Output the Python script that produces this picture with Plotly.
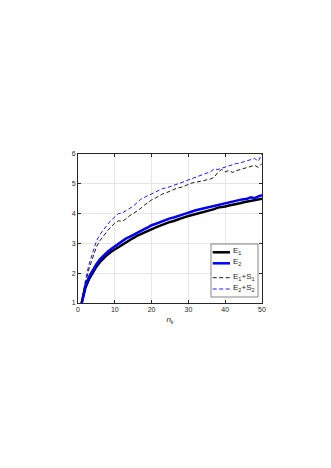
import plotly.graph_objects as go

# n_k values (x axis)
n_k = list(range(1, 51))

E1 = [1.00, 1.50, 1.80, 2.03, 2.22, 2.38, 2.51, 2.62, 2.72, 2.80,
      2.89, 2.97, 3.05, 3.11, 3.18, 3.25, 3.31, 3.37, 3.43, 3.49,
      3.53, 3.58, 3.63, 3.67, 3.72, 3.75, 3.80, 3.83, 3.88, 3.92,
      3.95, 3.98, 4.01, 4.05, 4.08, 4.12, 4.15, 4.20, 4.21, 4.24,
      4.27, 4.29, 4.32, 4.35, 4.38, 4.40, 4.43, 4.44, 4.46, 4.50]

E2 = [1.00, 1.58, 1.88, 2.11, 2.30, 2.47, 2.60, 2.71, 2.81, 2.90,
      2.99, 3.07, 3.16, 3.22, 3.29, 3.36, 3.42, 3.48, 3.54, 3.61,
      3.65, 3.70, 3.76, 3.79, 3.84, 3.87, 3.92, 3.95, 3.99, 4.04,
      4.07, 4.11, 4.14, 4.17, 4.20, 4.24, 4.26, 4.30, 4.33, 4.36,
      4.39, 4.42, 4.44, 4.46, 4.48, 4.50, 4.55, 4.52, 4.58, 4.62]

E1_S1 = [1.00, 1.65, 2.15, 2.55, 2.88, 3.10, 3.28, 3.42, 3.56, 3.68,
         3.76, 3.74, 3.82, 3.93, 4.00, 4.08, 4.17, 4.28, 4.38, 4.46,
         4.52, 4.60, 4.66, 4.70, 4.76, 4.82, 4.86, 4.88, 4.93, 4.99,
         5.03, 5.05, 5.08, 5.12, 5.14, 5.16, 5.22, 5.38, 5.48, 5.40,
         5.45, 5.38, 5.44, 5.48, 5.52, 5.56, 5.60, 5.62, 5.55, 5.68]

E2_S2 = [1.00, 1.75, 2.30, 2.72, 3.08, 3.30, 3.48, 3.63, 3.78, 3.90,
         4.00, 4.02, 4.10, 4.18, 4.25, 4.36, 4.48, 4.54, 4.60, 4.66,
         4.72, 4.78, 4.84, 4.86, 4.90, 4.96, 5.00, 5.02, 5.08, 5.13,
         5.18, 5.22, 5.28, 5.32, 5.36, 5.40, 5.50, 5.48, 5.52, 5.56,
         5.60, 5.66, 5.68, 5.70, 5.74, 5.76, 5.80, 5.85, 5.76, 6.00]

legend_names = ["E<sub>1</sub>", "E<sub>2</sub>",
                "E<sub>1</sub>+S<sub>1</sub>", "E<sub>2</sub>+S<sub>2</sub>"]

W, H = 331, 468
OFF = 8  # page body margin
L, R, T, B = 78, 262, 154, 303  # plot area in screen pixels
txt = "#262626"

series = [
    (E1, "black", 2.5, "solid"),
    (E2, "#0000ff", 2.5, "solid"),
    (E1_S1, "black", 0.9, "4px,2.5px"),
    (E2_S2, "#0000ff", 0.9, "4px,2.5px"),
]

fig = go.Figure()
for (ys, col, lw, dash), name in zip(series, legend_names):
    fig.add_trace(go.Scatter(x=n_k, y=ys, mode="lines", name=name,
                             line=dict(color=col, width=lw, dash=dash),
                             showlegend=False))

# hand-made legend box (matlab style, compact)
def px_x(p):
    return (p - L) / (R - L)

def px_y(p):
    return (B - p) / (B - T)

fig.add_shape(type="rect", xref="paper", yref="paper",
              x0=px_x(211), x1=px_x(258), y0=px_y(297), y1=px_y(244),
              fillcolor="white", line=dict(color="#555555", width=0.7))
rows = [252.3, 263.3, 277.7, 289]
for (ys, col, lw, dash), name, ry in zip(series, legend_names, rows):
    fig.add_shape(type="line", xref="paper", yref="paper",
                  x0=px_x(212.7), x1=px_x(230), y0=px_y(ry), y1=px_y(ry),
                  line=dict(color=col, width=lw, dash=dash))
    fig.add_annotation(x=px_x(231.3), y=px_y(ry - 1), xref="paper", yref="paper",
                       text=name, showarrow=False, xanchor="left", yanchor="middle",
                       font=dict(size=8, color=txt))

axis_common = dict(showline=True, linecolor=txt, linewidth=0.7, mirror="ticks",
                   ticks="inside", ticklen=3, tickcolor=txt, tickwidth=0.7,
                   showgrid=True, gridcolor="#e6e6e6", gridwidth=0.7,
                   zeroline=False, tickfont=dict(size=7, color=txt))

fig.update_xaxes(range=[0, 50], tickvals=[0, 10, 20, 30, 40, 50],
                 title=dict(text="<i>n</i><sub><i>k</i></sub>",
                            font=dict(size=8, color=txt), standoff=4),
                 **axis_common)
fig.update_yaxes(range=[1, 6], tickvals=[1, 2, 3, 4, 5, 6], **axis_common)

fig.update_layout(width=W, height=H, plot_bgcolor="white", paper_bgcolor="white",
                  margin=dict(l=L - OFF, r=W - R + OFF, t=T - OFF, b=H - B + OFF),
                  font=dict(family="Liberation Sans, Arial, sans-serif"))

fig.write_html("out.html")
